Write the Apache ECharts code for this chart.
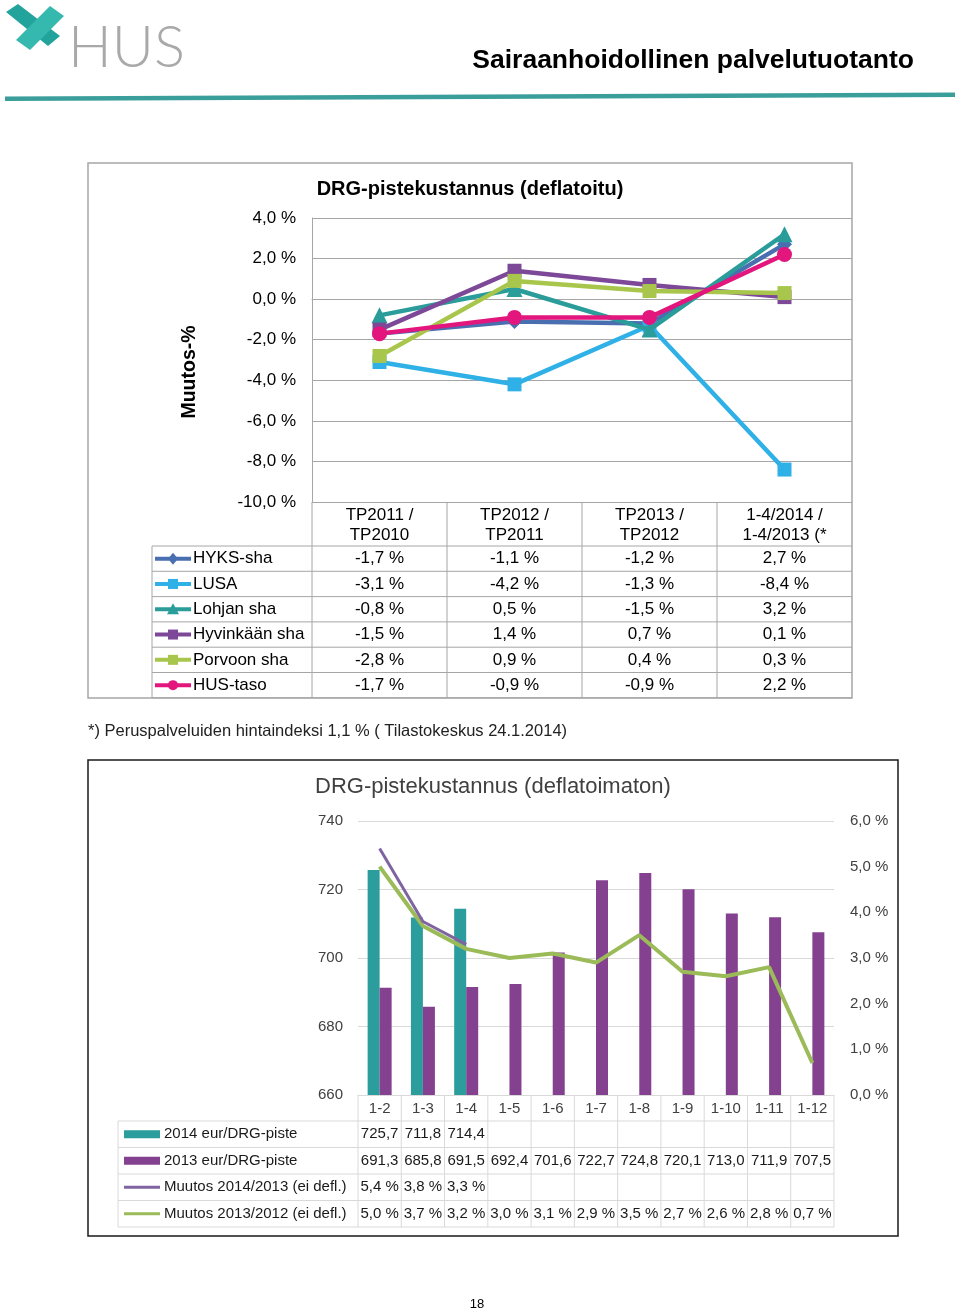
<!DOCTYPE html>
<html><head><meta charset="utf-8">
<script src="https://cdn.jsdelivr.net/npm/echarts@6.0.0/dist/echarts.min.js"></script>
<style>html,body{margin:0;padding:0;background:#fff}#c{width:960px;height:1311px}</style>
</head><body><div id="c"></div>
<script>
// ---------- DATA ----------
const c1Categories = ['TP2011 /\nTP2010', 'TP2012 /\nTP2011', 'TP2013 /\nTP2012', '1-4/2014 /\n1-4/2013 (*'];
const c1Names = ['HYKS-sha', 'LUSA', 'Lohjan sha', 'Hyvinkään sha', 'Porvoon sha', 'HUS-taso'];
const hyks = [-1.7, -1.1, -1.2, 2.7];
const lusa = [-3.1, -4.2, -1.3, -8.4];
const lohja = [-0.8, 0.5, -1.5, 3.2];
const hyvinkaa = [-1.5, 1.4, 0.7, 0.1];
const porvoo = [-2.8, 0.9, 0.4, 0.3];
const hus = [-1.7, -0.9, -0.9, 2.2];

const c2Categories = ['1-2', '1-3', '1-4', '1-5', '1-6', '1-7', '1-8', '1-9', '1-10', '1-11', '1-12'];
const eur2014 = [725.7, 711.8, 714.4];
const eur2013 = [691.3, 685.8, 691.5, 692.4, 701.6, 722.7, 724.8, 720.1, 713.0, 711.9, 707.5];
const muutos1413 = [5.4, 3.8, 3.3];
const muutos1312 = [5.0, 3.7, 3.2, 3.0, 3.1, 2.9, 3.5, 2.7, 2.6, 2.8, 0.7];
const c2Names = ['2014 eur/DRG-piste', '2013 eur/DRG-piste', 'Muutos 2014/2013 (ei defl.)', 'Muutos 2013/2012 (ei defl.)'];

// ---------- STYLE / LAYOUT ----------
const c1Series = [hyks, lusa, lohja, hyvinkaa, porvoo, hus];
const c1Colors = ['#4a6fb0', '#2fb0e6', '#2a9c9a', '#7d4898', '#a8c64c', '#e2167c'];
const c1Symbols = ['diamond', 'rect', 'triangle', 'rect', 'rect', 'circle'];
const c1SymSize = [15, 14, 16, 14, 14, 15];
const NARROW = "'Liberation Sans Narrow', 'Arial Narrow', 'Liberation Sans', Arial, sans-serif";
const SANS = "'Liberation Sans', Arial, sans-serif";

const fmt1 = v => v.toFixed(1).replace('.', ',') + ' %';
const fmt2 = v => v.toFixed(1).replace('.', ',');

const G1 = {left: 312, top: 218, width: 540, height: 284};
const G2 = {left: 358, top: 821, width: 476, height: 274};

const graphic = [];
function line(x1, y1, x2, y2, stroke, w) {
  graphic.push({type: 'line', shape: {x1, y1, x2, y2}, style: {stroke, lineWidth: w || 1}, silent: true});
}
function text(t, x, y, opt, extra) {
  graphic.push(Object.assign({type: 'text', x, y, style: Object.assign({text: t, fill: '#000', align: 'left', verticalAlign: 'middle'}, opt), silent: true, z: 10}, extra || {}));
}

// header logo
graphic.push({type: 'polygon', shape: {points: [[6, 12], [18, 4], [60, 36], [48, 46]]}, style: {fill: '#22a39b'}});
graphic.push({type: 'polygon', shape: {points: [[50, 6], [64, 16], [30, 50], [16, 40]]}, style: {fill: '#35b9ae'}});
text('HUS', 68, 48, {fontSize: 58, fontFamily: 'Lato, sans-serif', fontWeight: 300, fill: '#a9a9a9'});
text('Sairaanhoidollinen palvelutuotanto', 914, 61, {fontSize: 26.5, fontWeight: 'bold', fontFamily: SANS, align: 'right'});
graphic.push({type: 'polygon', shape: {points: [[5, 96.5], [955, 92.5], [955, 97], [5, 101]]}, style: {fill: '#3a9e9b'}});

// chart 1 box
graphic.push({type: 'rect', shape: {x: 88, y: 163, width: 764, height: 535}, style: {fill: 'none', stroke: '#a6a6a6', lineWidth: 1.5}});
text('DRG-pistekustannus (deflatoitu)', 470, 189, {fontSize: 20, fontWeight: 'bold', fontFamily: NARROW, align: 'center'});
text('Muutos-%', 190, 372, {fontSize: 19.5, fontWeight: 'bold', fontFamily: SANS, align: 'center'}, {rotation: Math.PI / 2});

// chart 1 table
const t1Top = G1.top + G1.height, t1RowTop = 546, t1RowH = 25.3, t1Left = 152, colW1 = G1.width / c1Categories.length;
line(G1.left, t1Top, G1.left, t1RowTop + t1RowH * 6, '#a6a6a6');
for (let i = 1; i < c1Categories.length; i++) line(G1.left + colW1 * i, t1Top, G1.left + colW1 * i, t1RowTop + t1RowH * 6, '#a6a6a6');
for (let r = 0; r <= 6; r++) line(t1Left, t1RowTop + t1RowH * r, G1.left + G1.width, t1RowTop + t1RowH * r, '#a6a6a6');
line(t1Left, t1RowTop, t1Left, t1RowTop + t1RowH * 6, '#a6a6a6');
c1Names.forEach((n, r) => {
  const cy = t1RowTop + t1RowH * (r + 0.5);
  line(155, cy, 191, cy, c1Colors[r], 4);
  const mx = 173, s = 5;
  if (c1Symbols[r] === 'circle') graphic.push({type: 'circle', shape: {cx: mx, cy, r: 5}, style: {fill: c1Colors[r]}});
  else if (c1Symbols[r] === 'diamond') graphic.push({type: 'polygon', shape: {points: [[mx, cy - 6], [mx + 5, cy], [mx, cy + 6], [mx - 5, cy]]}, style: {fill: c1Colors[r]}});
  else if (c1Symbols[r] === 'triangle') graphic.push({type: 'polygon', shape: {points: [[mx, cy - 6], [mx + 6, cy + 5], [mx - 6, cy + 5]]}, style: {fill: c1Colors[r]}});
  else graphic.push({type: 'rect', shape: {x: mx - s, y: cy - s, width: 2 * s, height: 2 * s}, style: {fill: c1Colors[r]}});
  text(n, 193, cy, {fontSize: 17, fontFamily: NARROW});
  c1Series[r].forEach((v, i) => text(fmt1(v), G1.left + colW1 * (i + 0.5), cy, {fontSize: 17, fontFamily: NARROW, align: 'center'}));
});

// footnote
text('*) Peruspalveluiden hintaindeksi 1,1 % ( Tilastokeskus 24.1.2014)', 88, 731, {fontSize: 16.5, fontFamily: SANS, fill: '#222'});

// chart 2 box
graphic.push({type: 'rect', shape: {x: 88, y: 760, width: 810, height: 476}, style: {fill: 'none', stroke: '#1a1a1a', lineWidth: 1.5}});
text('DRG-pistekustannus (deflatoimaton)', 315, 787, {fontSize: 22, fontFamily: NARROW, fill: '#404040'});

// chart 2 table
const colW2 = G2.width / c2Categories.length, t2Top = G2.top + G2.height, t2RowTop = 1121, t2RowH = 26.5, t2Left = 118;
for (let i = 0; i <= c2Categories.length; i++) line(G2.left + colW2 * i, t2Top, G2.left + colW2 * i, t2RowTop + t2RowH * 4, '#d9d9d9');
for (let r = 0; r <= 4; r++) line(t2Left, t2RowTop + t2RowH * r, G2.left + G2.width, t2RowTop + t2RowH * r, '#d9d9d9');
line(t2Left, t2RowTop, t2Left, t2RowTop + t2RowH * 4, '#d9d9d9');
const c2Colors = ['#2a9d9c', '#84418f', '#8064a2', '#9bbb59'];
const c2Rows = [eur2014.map(fmt2), eur2013.map(fmt2), muutos1413.map(fmt1), muutos1312.map(fmt1)];
c2Names.forEach((n, r) => {
  const cy = t2RowTop + t2RowH * (r + 0.5);
  if (r < 2) graphic.push({type: 'rect', shape: {x: 124, y: cy - 4, width: 36, height: 8}, style: {fill: c2Colors[r]}});
  else line(124, cy, 160, cy, c2Colors[r], 3);
  text(n, 164, cy, {fontSize: 15, fontFamily: NARROW, fill: '#1a1a1a'});
  c2Rows[r].forEach((s, i) => text(s, G2.left + colW2 * (i + 0.5), cy, {fontSize: 15, fontFamily: NARROW, align: 'center', fill: '#1a1a1a'}));
});

// page number
text('18', 477, 1304, {fontSize: 13, fontFamily: SANS, align: 'center'});

const option = {
  animation: false,
  backgroundColor: '#fff',
  grid: [
    Object.assign({containLabel: false}, G1),
    Object.assign({containLabel: false}, G2)
  ],
  xAxis: [
    {gridIndex: 0, type: 'category', data: c1Categories, boundaryGap: true,
     axisLine: {show: true, lineStyle: {color: '#a6a6a6'}}, axisTick: {show: false},
     axisLabel: {margin: 3, fontSize: 17, lineHeight: 20, fontFamily: NARROW, color: '#000', verticalAlign: 'top'}},
    {gridIndex: 1, type: 'category', data: c2Categories, boundaryGap: true,
     axisLine: {show: true, lineStyle: {color: '#d9d9d9'}}, axisTick: {show: false},
     axisLabel: {margin: 6, fontSize: 15, fontFamily: NARROW, color: '#404040'}}
  ],
  yAxis: [
    {gridIndex: 0, type: 'value', min: -10, max: 4, interval: 2,
     axisLine: {show: true, lineStyle: {color: '#a6a6a6'}}, axisTick: {show: false},
     splitLine: {lineStyle: {color: '#a6a6a6'}},
     axisLabel: {margin: 16, fontSize: 17, fontFamily: NARROW, color: '#000', formatter: v => fmt1(v)}},
    {gridIndex: 1, type: 'value', min: 660, max: 740, interval: 20,
     axisLine: {show: false}, axisTick: {show: false},
     splitLine: {lineStyle: {color: '#d9d9d9'}},
     axisLabel: {margin: 15, fontSize: 15, fontFamily: NARROW, color: '#404040'}},
    {gridIndex: 1, type: 'value', position: 'right', min: 0, max: 6, interval: 1,
     axisLine: {show: false}, axisTick: {show: false}, splitLine: {show: false},
     axisLabel: {margin: 16, fontSize: 15, fontFamily: NARROW, color: '#404040', formatter: v => fmt1(v)}}
  ],
  series: [
    ...c1Series.map((d, i) => ({
      type: 'line', name: c1Names[i], xAxisIndex: 0, yAxisIndex: 0, data: d,
      symbol: c1Symbols[i], symbolSize: c1SymSize[i], showSymbol: true,
      lineStyle: {color: c1Colors[i], width: 4.5}, itemStyle: {color: c1Colors[i]}, z: 3 + i
    })),
    {type: 'bar', name: c2Names[0], xAxisIndex: 1, yAxisIndex: 1, data: eur2014, barWidth: 12, barGap: '0%', itemStyle: {color: c2Colors[0]}},
    {type: 'bar', name: c2Names[1], xAxisIndex: 1, yAxisIndex: 1, data: eur2013, barWidth: 12, barGap: '0%', itemStyle: {color: c2Colors[1]}},
    {type: 'line', name: c2Names[2], xAxisIndex: 1, yAxisIndex: 2, data: muutos1413, symbol: 'none', lineStyle: {color: c2Colors[2], width: 3}, z: 5},
    {type: 'line', name: c2Names[3], xAxisIndex: 1, yAxisIndex: 2, data: muutos1312, symbol: 'none', lineStyle: {color: c2Colors[3], width: 4}, z: 4}
  ],
  graphic: graphic
};
const chart = echarts.init(document.getElementById('c'), null, {renderer: 'canvas'});
chart.setOption(option);
</script>
</body></html>
